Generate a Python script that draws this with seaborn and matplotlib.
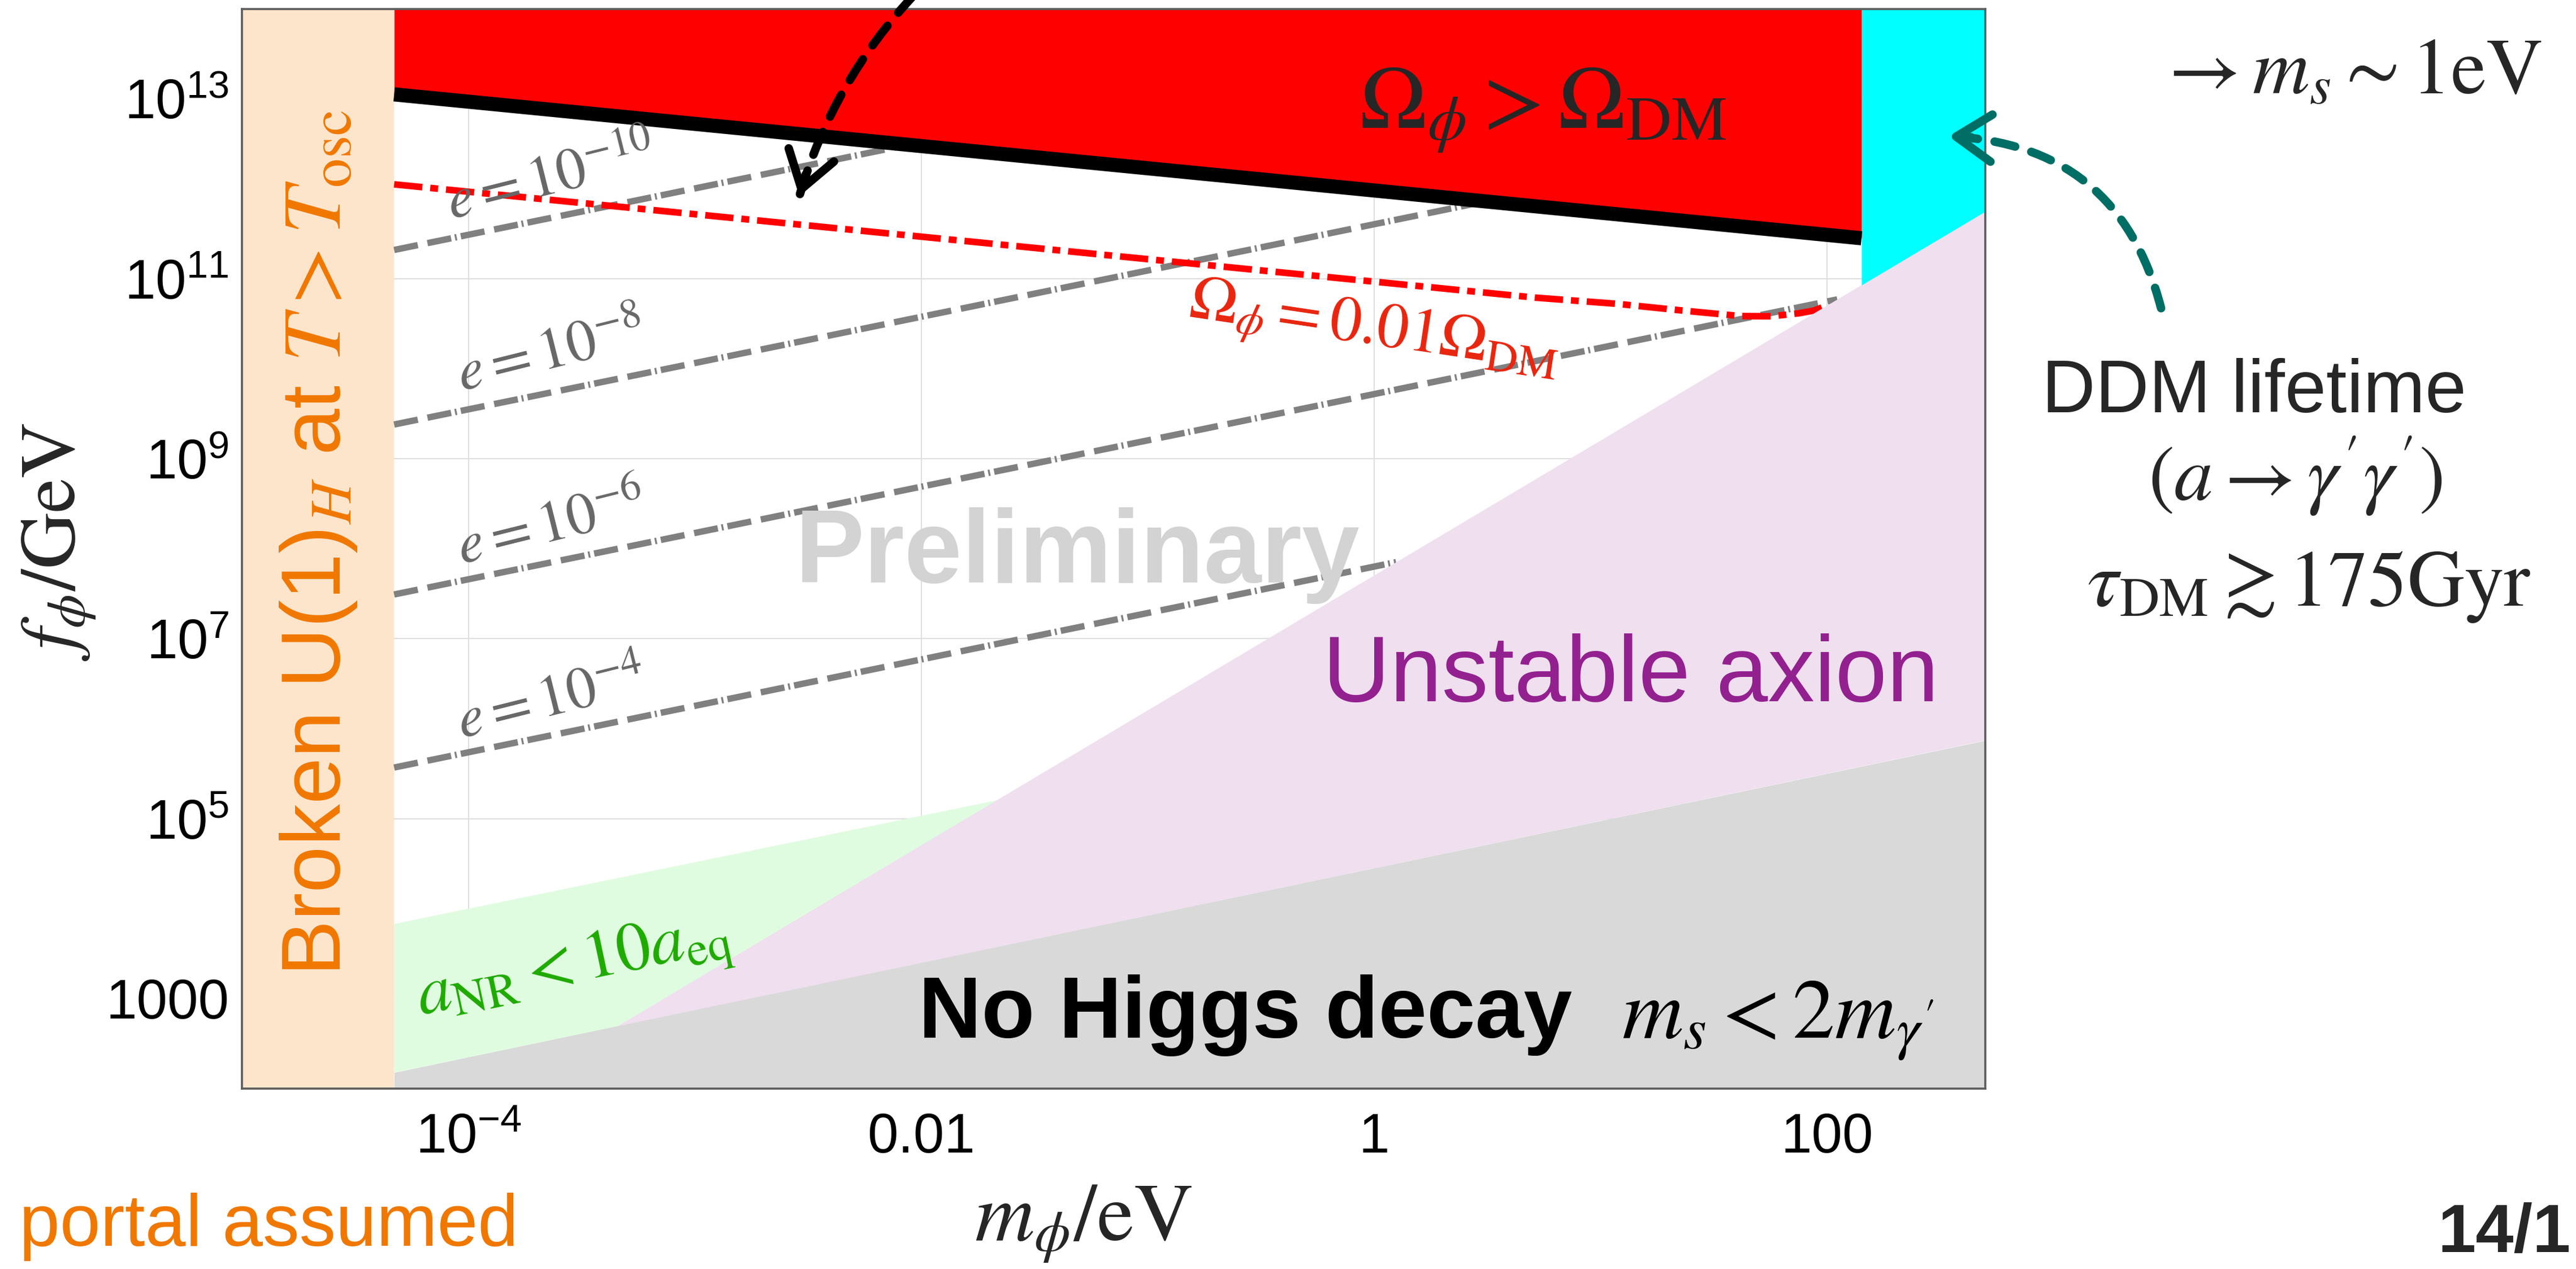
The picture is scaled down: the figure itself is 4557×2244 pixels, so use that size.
import matplotlib
matplotlib.use("Agg")
import numpy as np
import pandas as pd
import matplotlib.pyplot as plt
from matplotlib.patches import FancyArrowPatch, ArrowStyle
from matplotlib.ticker import NullFormatter
import seaborn as sns

# ---------------- parameter-space data (m_phi in eV, f_phi in GeV) ----------------
x_limits = [1e-5, 500.0]
y_limits = [1e2, 1e14]

band_m = [1e-5, 4.7e-5]                      # broken U(1)_H at T > T_osc

relic_m = [4.7e-5, 142.0]                    # Omega_phi = Omega_DM
relic_f = [1.12e13, 2.82e11]

omega01_m = [4.7e-5, 5.15, 12.0, 22.3, 41.5, 56.9, 75.0, 87.7, 96.6]      # Omega_phi = 0.01 Omega_DM
omega01_f = [1.12e12, 6.17e10, 5.25e10, 4.47e10, 3.85e10, 3.83e10, 4.13e10, 4.44e10, 4.88e10]

e_exponent = [-10, -8, -6, -4]               # gauge coupling contours
e_m_start = [4.7e-5, 4.7e-5, 4.7e-5, 4.7e-5]
e_f_start = [2.09e11, 2.4e9, 3.1e7, 3.7e5]
e_m_end = [1.0e-2, 3.0, 111.0, 1.25]
e_f_end = [3.3e12, 7.1e11, 5.9e10, 7.1e7]

unstable_m = [4.54e-4, 500.0]                # upper edge of the unstable-axion region
unstable_f = [490.0, 5.6e11]

nohiggs_m = [4.7e-5, 500.0]                  # m_s < 2 m_gamma' boundary
nohiggs_f = [151.0, 7.4e5]

anr_m = [4.7e-5, 0.0221]                     # a_NR < 10 a_eq upper edge
anr_f = [6.76e3, 1.62e5]

ddm_m = [142.0, 500.0]                       # DDM lifetime bound
ddm_f = [8.5e10, 5.6e11]

x_major = [1e-4, 1e-2, 1.0, 100.0]
x_major_labels = [r"$\mathdefault{10^{-4}}$", "0.01", "1", "100"]
x_minor = [1e-5, 1e-3, 0.1, 10.0]
y_major = [1e3, 1e5, 1e7, 1e9, 1e11, 1e13]
y_major_labels = ["1000", r"$\mathdefault{10^{5}}$", r"$\mathdefault{10^{7}}$",
                  r"$\mathdefault{10^{9}}$", r"$\mathdefault{10^{11}}$", r"$\mathdefault{10^{13}}$"]
y_minor = [1e2, 1e4, 1e6, 1e8, 1e10, 1e12, 1e14]

# ---------------- style ----------------
sns.set_theme(style="white")
plt.rcParams.update({
    "font.family": ["Liberation Sans", "DejaVu Sans"],
    "mathtext.fontset": "stix",
    "axes.edgecolor": "#5f5f5f",
    "axes.linewidth": 0.9,
})

ORANGE = "#F07800"
W, H, DPI = 4557, 2244, 300
fig = plt.figure(figsize=(W / DPI, H / DPI), dpi=DPI)
fig.patch.set_facecolor("white")
ax = fig.add_axes([428 / W, 1 - 1925 / H, (3512 - 428) / W, (1925 - 15.6) / H])
ax.set_facecolor("white")
ax.set_xscale("log")
ax.set_yscale("log")
ax.set_xlim(x_limits)
ax.set_ylim(y_limits)


def fpos(px, py):
    """Pixel position on the canvas -> figure fraction."""
    return (px / W, 1 - py / H)


# light grid at labelled decades
for m in x_major:
    ax.axvline(m, color="#dedede", lw=0.5, zorder=0.2)
for f in y_major:
    ax.axhline(f, color="#dedede", lw=0.5, zorder=0.2)

# broken U(1) band
ax.axvspan(band_m[0], band_m[1], color="#FDE5CC", lw=0, zorder=1.0)

# coupling contours
e_rows = []
for ex, m0, f0, m1, f1 in zip(e_exponent, e_m_start, e_f_start, e_m_end, e_f_end):
    e_rows += [{"e": ex, "m": m0, "f": f0}, {"e": ex, "m": m1, "f": f1}]
e_df = pd.DataFrame(e_rows)
sns.lineplot(data=e_df, x="m", y="f", units="e", estimator=None, sort=False,
             color="#808080", linewidth=2.7,
             linestyle=(0, (3.8, 1.55, 3.8, 0.6, 0.3, 0.65)),
             legend=False, ax=ax, zorder=1.1)

# Omega_phi = 0.01 Omega_DM
sns.lineplot(x=omega01_m, y=omega01_f, estimator=None, sort=False,
             color="#FF0000", linewidth=2.8, linestyle=(0, (4.3, 1.2, 1.2, 1.2)),
             ax=ax, zorder=1.2)

# a_NR < 10 a_eq (bounded below by the no-Higgs-decay edge, on the right by the unstable region)
ax.fill([nohiggs_m[0], unstable_m[0], anr_m[1], anr_m[0]],
        [nohiggs_f[0], unstable_f[0], anr_f[1], anr_f[0]],
        color="#E0FCE0", lw=0, zorder=1.3)

# unstable axion
ax.fill([unstable_m[0], unstable_m[1], nohiggs_m[1]],
        [unstable_f[0], unstable_f[1], nohiggs_f[1]],
        color="#EFDFEF", lw=0, zorder=1.4)

# no Higgs decay
ax.fill_between(nohiggs_m, y_limits[0], nohiggs_f, color="#D9D9D9", lw=0, zorder=1.5)

# DDM lifetime
ax.fill_between(ddm_m, ddm_f, y_limits[1], color="#00FFFF", lw=0, zorder=1.6)

# overabundance
ax.fill_between(relic_m, relic_f, y_limits[1], color="#FF0000", lw=0, zorder=1.7)
sns.lineplot(x=relic_m, y=relic_f, estimator=None, sort=False, color="black",
             linewidth=6.0, solid_capstyle="butt", ax=ax, zorder=1.8)

ax.set_xlabel("")
ax.set_ylabel("")

# ticks
ax.set_xticks(x_major)
ax.set_xticklabels(x_major_labels)
ax.set_xticks(x_minor, minor=True)
ax.set_yticks(y_major)
ax.set_yticklabels(y_major_labels)
ax.set_yticks(y_minor, minor=True)
ax.xaxis.set_minor_formatter(NullFormatter())
ax.yaxis.set_minor_formatter(NullFormatter())
ax.tick_params(which="both", direction="in", top=True, right=True,
               color="#333333", labelcolor="black", width=0.5)
ax.tick_params(which="major", length=7.2, labelsize=23.5)
ax.tick_params(which="minor", length=4.0)
ax.tick_params(axis="x", which="major", pad=10)
ax.tick_params(axis="y", which="major", pad=5.5)
for s in ax.spines.values():
    s.set_zorder(2.6)

# axis titles
fig.text(*fpos(1916, 2193), r"$m_\phi/\mathrm{eV}$", fontsize=35, ha="center", va="baseline")
fig.text(*fpos(133, 958), r"$f_\phi/\mathrm{GeV}$", fontsize=33, rotation=90,
         rotation_mode="anchor", ha="center", va="baseline")

# region labels
fig.text(*fpos(602, 960), r"Broken U(1)$_H$ at $T > T_{\rm osc}$", color=ORANGE, fontsize=35.5,
         rotation=90, rotation_mode="anchor", ha="center", va="baseline")
fig.text(*fpos(2405, 226), r"$\Omega_\phi > \Omega_{\rm DM}$", fontsize=38, ha="left", va="baseline")
fig.text(*fpos(2430, 585), r"$\Omega_\phi = 0.01\Omega_{\rm DM}$", color="#E8250F", fontsize=27,
         rotation=-8.5, rotation_mode="anchor", ha="center", va="center")
e_label_pos = [(975, 318), (975, 626), (975, 931), (975, 1239)]
for ex, (cx, cy) in zip(e_exponent, e_label_pos):
    fig.text(*fpos(cx, cy), rf"$e = 10^{{{ex}}}$", color="#676767", fontsize=25,
             rotation=14, rotation_mode="anchor", ha="center", va="center")
fig.text(*fpos(1015, 1712), r"$a_{\rm NR} < 10a_{\rm eq}$", color="#1EAA00", fontsize=29,
         rotation=12, rotation_mode="anchor", ha="center", va="center")
fig.text(*fpos(1407, 1030), "Preliminary", color="#D3D3D3", fontsize=44, fontweight="bold",
         ha="left", va="baseline")
fig.text(*fpos(2340, 1240), "Unstable axion", color="#93208F", fontsize=39.5, ha="left", va="baseline")
fig.text(*fpos(1625, 1835), "No Higgs decay", color="black", fontsize=37, fontweight="bold",
         ha="left", va="baseline")
fig.text(*fpos(2869, 1835), r"$m_s < 2m_{\gamma'}$", color="black", fontsize=36, ha="left", va="baseline")

# side notes
fig.text(*fpos(3815, 165), r"$\rightarrow m_s \sim 1\mathrm{eV}$", fontsize=33.5, ha="left", va="baseline")
fig.text(*fpos(3612, 729), "DDM lifetime", fontsize=31.5, ha="left", va="baseline")
fig.text(*fpos(3800, 842), r"$(a \rightarrow \gamma'\gamma')$", fontsize=33, ha="left", va="center")
fig.text(*fpos(3692, 1071), r"$\tau_{\rm DM} \gtrsim 175\mathrm{Gyr}$", fontsize=33.5, ha="left", va="baseline")
fig.text(*fpos(34, 2203), "portal assumed", color=ORANGE, fontsize=31, ha="left", va="baseline")
fig.text(*fpos(4548, 2214), "14/1", fontsize=29, fontweight="bold", ha="right", va="baseline")


def curved_arrow(p0, p1, rad, color, lw, dash, head_len, head_w):
    a = np.array([p0[0], H - p0[1]], dtype=float)
    b = np.array([p1[0], H - p1[1]], dtype=float)
    d = b - a
    ctrl = (a + b) / 2 + rad * np.array([d[1], -d[0]])
    shaft = FancyArrowPatch(tuple(a / [W, H]), tuple(b / [W, H]), transform=fig.transFigure,
                            connectionstyle=f"arc3,rad={rad}", arrowstyle="-", color=color,
                            lw=lw, linestyle=(0, dash), shrinkA=0, shrinkB=0, zorder=5)
    fig.add_artist(shaft)
    t = (b - ctrl) / np.linalg.norm(b - ctrl)
    h0 = b - 40 * t
    head = FancyArrowPatch(tuple(h0 / [W, H]), tuple(b / [W, H]), transform=fig.transFigure,
                           arrowstyle=ArrowStyle("->", head_length=head_len, head_width=head_w),
                           mutation_scale=1, color=color, lw=lw, shrinkA=0, shrinkB=0,
                           joinstyle="round", capstyle="round", zorder=5)
    fig.add_artist(head)


curved_arrow((1618, -10), (1414, 347), 0.12, "black", 3.6, (2.9, 2.0), 15, 10)
curved_arrow((3823, 545), (3447, 241), 0.37, "#006E64", 3.6, (2.5, 2.0), 15, 10)

fig.savefig("out.png", dpi=DPI, facecolor="white")
